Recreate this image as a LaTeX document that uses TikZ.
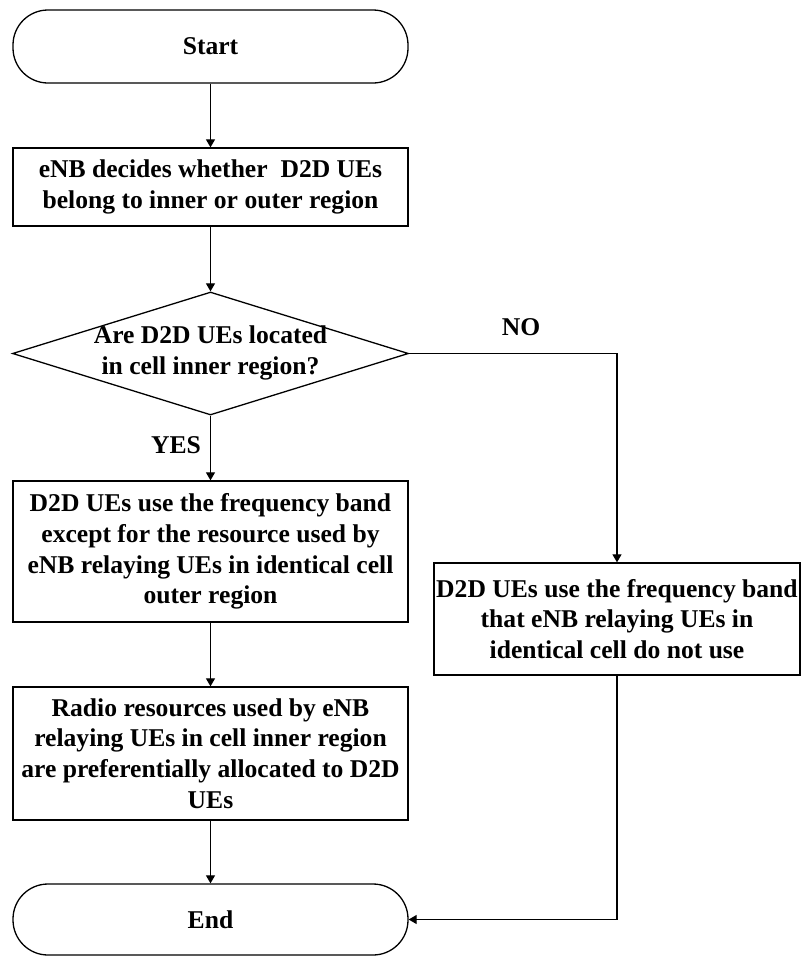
\documentclass[tikz,border=0pt]{standalone}
\usepackage{fontspec}
\setmainfont{Liberation Serif}
\usetikzlibrary{shapes.geometric,arrows.meta}
\begin{document}
\begin{tikzpicture}[x=1pt,y=-1pt,
  every node/.style={font=\fontsize{25.6}{30.7}\selectfont\bfseries, align=center},
  terminal/.style={draw, line width=1.3pt, rounded corners=35pt, minimum width=395pt, inner sep=0pt},
  process/.style={draw, line width=1.3pt, minimum width=395pt, inner sep=0pt},
  decision/.style={draw, line width=1.3pt, diamond, minimum width=396pt, minimum height=123pt, inner sep=0pt},
  flow/.style={line width=1.2pt, -{Triangle[length=8pt,width=9pt]}}]
\useasboundingbox (0,0) rectangle (801,956);

\node[terminal, minimum height=73pt] (start) at (210.5,46.5) {Start};
\node[process, minimum height=78pt] (b1) at (210.5,187)
  {eNB decides whether~ D2D UEs\\belong to inner or outer region};
\node[decision] (dec) at (210.5,353.5) {};
\node (dectxt) at (210.5,353) {Are D2D UEs located\\in cell inner region?};
\node[process, minimum height=141pt] (b2) at (210.5,551.5)
  {D2D UEs use the frequency band\\except for the resource used by\\eNB relaying UEs in identical cell\\outer region};
\node[process, minimum width=366pt, minimum height=112pt] (b3) at (617,619)
  {D2D UEs use the frequency band\\that eNB relaying UEs in\\identical cell do not use};
\node[process, minimum height=133pt] (b4) at (210.5,753.5)
  {Radio resources used by eNB\\relaying UEs in cell inner region\\are preferentially allocated to D2D\\UEs};
\node[terminal, minimum height=71pt] (end) at (210.5,919.5) {End};

\node (yes) at (176,445) {YES};
\node (no) at (521,327) {NO};

\draw[flow] (start) -- (b1);
\draw[flow] (b1) -- (dec);
\draw[flow] (dec.south) -- (b2.north);
\draw[flow] (dec.east) -| (b3.north);
\draw[flow] (b2) -- (b4);
\draw[flow] (b4) -- (end);
\draw[flow] (b3.south) |- (end.east);
\end{tikzpicture}
\end{document}
